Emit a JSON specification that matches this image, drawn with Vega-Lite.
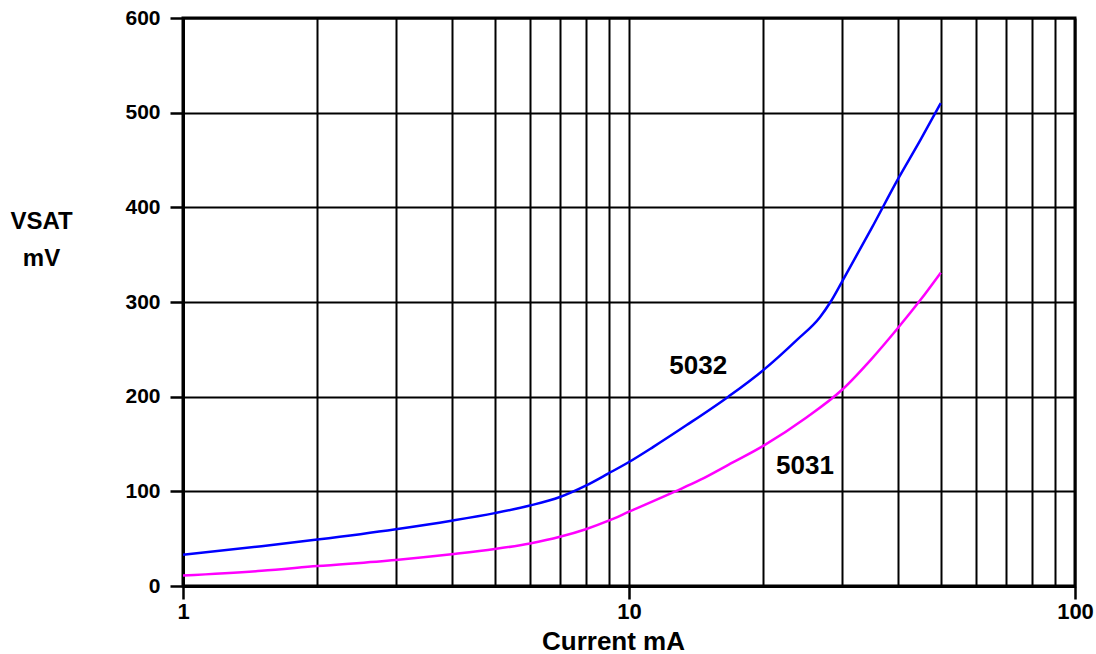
{
  "$schema": "https://vega.github.io/schema/vega-lite/v6.json",
  "width": 892,
  "height": 568,
  "autosize": {"type": "none"},
  "padding": {"left": 183, "top": 18, "right": 21, "bottom": 68},
  "background": "white",
  "config": {
    "font": "Liberation Sans",
    "view": {"stroke": "black", "strokeWidth": 3},
    "axis": {
      "domainColor": "black",
      "domainWidth": 3,
      "gridColor": "black",
      "gridWidth": 2,
      "gridOpacity": 1,
      "tickColor": "black",
      "tickWidth": 2.5,
      "labelFont": "Liberation Sans",
      "labelFontWeight": "bold",
      "labelFontSize": 21,
      "labelColor": "black",
      "titleFont": "Liberation Sans",
      "titleFontWeight": "bold",
      "titleColor": "black"
    }
  },
  "datasets": {
    "curves": [
      {"current": 1, "vsat": 33, "series": "5032"},
      {"current": 1.5, "vsat": 42, "series": "5032"},
      {"current": 2, "vsat": 49, "series": "5032"},
      {"current": 3, "vsat": 60, "series": "5032"},
      {"current": 4, "vsat": 69, "series": "5032"},
      {"current": 5, "vsat": 77, "series": "5032"},
      {"current": 6, "vsat": 85, "series": "5032"},
      {"current": 7, "vsat": 94, "series": "5032"},
      {"current": 8, "vsat": 106, "series": "5032"},
      {"current": 9, "vsat": 119, "series": "5032"},
      {"current": 10, "vsat": 131, "series": "5032"},
      {"current": 11.34, "vsat": 147, "series": "5032"},
      {"current": 13.47, "vsat": 170, "series": "5032"},
      {"current": 16.7, "vsat": 200, "series": "5032"},
      {"current": 20, "vsat": 228, "series": "5032"},
      {"current": 23.8, "vsat": 260, "series": "5032"},
      {"current": 26.8, "vsat": 284, "series": "5032"},
      {"current": 28.3, "vsat": 300, "series": "5032"},
      {"current": 30, "vsat": 321, "series": "5032"},
      {"current": 35, "vsat": 378, "series": "5032"},
      {"current": 40, "vsat": 429, "series": "5032"},
      {"current": 45, "vsat": 471, "series": "5032"},
      {"current": 50, "vsat": 510, "series": "5032"},
      {"current": 1, "vsat": 11, "series": "5031"},
      {"current": 1.5, "vsat": 16, "series": "5031"},
      {"current": 2, "vsat": 21, "series": "5031"},
      {"current": 3, "vsat": 27.5, "series": "5031"},
      {"current": 4, "vsat": 33.5, "series": "5031"},
      {"current": 5, "vsat": 39, "series": "5031"},
      {"current": 6, "vsat": 45, "series": "5031"},
      {"current": 7, "vsat": 52, "series": "5031"},
      {"current": 8, "vsat": 60, "series": "5031"},
      {"current": 9, "vsat": 69, "series": "5031"},
      {"current": 10, "vsat": 78.5, "series": "5031"},
      {"current": 12.7, "vsat": 100, "series": "5031"},
      {"current": 14.43, "vsat": 112, "series": "5031"},
      {"current": 16.7, "vsat": 128, "series": "5031"},
      {"current": 20, "vsat": 148, "series": "5031"},
      {"current": 25, "vsat": 178, "series": "5031"},
      {"current": 30, "vsat": 207, "series": "5031"},
      {"current": 35, "vsat": 240, "series": "5031"},
      {"current": 40, "vsat": 272, "series": "5031"},
      {"current": 45, "vsat": 302, "series": "5031"},
      {"current": 50, "vsat": 331, "series": "5031"}
    ],
    "labels": [
      {"current": 14.3, "vsat": 232, "label": "5032"},
      {"current": 24.8, "vsat": 127, "label": "5031"}
    ]
  },
  "layer": [
    {
      "data": {"name": "curves"},
      "mark": {"type": "line", "strokeWidth": 2.5, "interpolate": "monotone"},
      "encoding": {
        "x": {
          "field": "current",
          "type": "quantitative",
          "scale": {"type": "log", "domain": [1, 100], "nice": false},
          "axis": {
            "title": "Current mA",
            "titleFontSize": 26,
            "titleX": 430,
            "titleY": 63,
            "titleBaseline": "alphabetic",
            "values": [1, 2, 3, 4, 5, 6, 7, 8, 9, 10, 20, 30, 40, 50, 60, 70, 80, 90, 100],
            "labelExpr": "indexof([1,10,100], datum.value) >= 0 ? datum.value : ''",
            "labelFontSize": 22,
            "tickSize": 13,
            "tickOpacity": {"condition": {"test": "indexof([1,10,100], datum.value) >= 0", "value": 1}, "value": 0},
            "labelPadding": 2,
            "labelFlush": false,
            "labelOverlap": false,
            "grid": true
          }
        },
        "y": {
          "field": "vsat",
          "type": "quantitative",
          "scale": {"domain": [0, 600], "nice": false},
          "axis": {
            "title": ["VSAT", "mV"],
            "titleFontSize": 24,
            "titleAngle": 0,
            "titleAlign": "center",
            "titleBaseline": "alphabetic",
            "titleLineHeight": 37,
            "titleX": -142,
            "titleY": 210,
            "values": [0, 100, 200, 300, 400, 500, 600],
            "tickSize": 13,
            "labelPadding": 10,
            "grid": true
          }
        },
        "color": {
          "field": "series",
          "type": "nominal",
          "scale": {"domain": ["5032", "5031"], "range": ["#0000ff", "#ff00ff"]},
          "legend": null
        }
      }
    },
    {
      "data": {"name": "labels"},
      "mark": {"type": "text", "font": "Liberation Sans", "fontWeight": "bold", "fontSize": 26, "color": "black"},
      "encoding": {
        "x": {"field": "current", "type": "quantitative"},
        "y": {"field": "vsat", "type": "quantitative"},
        "text": {"field": "label"}
      }
    }
  ]
}
